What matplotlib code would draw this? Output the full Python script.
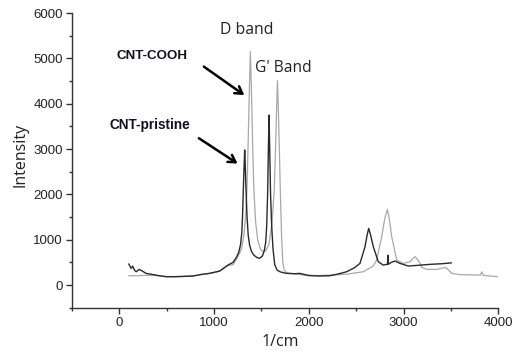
import matplotlib
matplotlib.use("Agg")
import matplotlib.pyplot as plt

# CNT-pristine (dark curve)
pristine_x = [100, 124, 141, 160, 177, 212, 283, 400, 494, 600, 776, 864, 952, 1058, 1146, 1200,
              1235, 1260, 1280, 1292, 1300, 1310, 1318, 1323, 1328, 1337, 1348, 1360, 1375, 1395,
              1420, 1450, 1481, 1510, 1530, 1545, 1555, 1565, 1573, 1580, 1587, 1596, 1608, 1622,
              1640, 1665, 1700, 1760, 1850, 1905, 2000, 2100, 2220, 2300, 2399, 2480, 2540, 2593,
              2615, 2632, 2650, 2681, 2733, 2786, 2830, 2835, 2840, 2870, 2910, 2960, 3050, 3175,
              3300, 3400, 3503]
pristine_y = [463, 368, 419, 330, 294, 346, 258, 215, 183, 185, 199, 235, 258, 309, 441, 500,
              610, 720, 900, 1150, 1500, 2200, 2700, 2980, 2700, 2100, 1500, 1100, 880, 740,
              660, 610, 589, 640, 760, 950, 1300, 2000, 3000, 3750, 3000, 2000, 1300, 800,
              450, 330, 290, 260, 250, 258, 210, 200, 205, 240, 294, 380, 478, 845,
              1100, 1250, 1120, 845, 515, 440, 460, 660, 460, 500, 530, 480, 420, 440,
              460, 470, 490]

# CNT-COOH (light gray curve)
cooh_x = [100, 200, 270, 350, 494, 600, 776, 952, 1058, 1146, 1200, 1250, 1290, 1315, 1332, 1345,
          1358, 1372, 1383, 1394, 1408, 1420, 1438, 1460, 1490, 1517, 1545, 1580, 1610, 1635,
          1650, 1660, 1669, 1678, 1690, 1700, 1712, 1725, 1740, 1770, 1850, 1950, 2100, 2222,
          2400, 2575, 2680, 2716, 2769, 2800, 2829, 2850, 2875, 2928, 2998, 3069, 3100, 3122,
          3150, 3175, 3192, 3245, 3350, 3420, 3439, 3470, 3510, 3600, 3810, 3827, 3840, 4000]
cooh_y = [206, 206, 215, 215, 190, 188, 200, 258, 305, 430, 450, 620, 800, 1100, 1500, 2000,
          3000, 4300, 5150, 4300, 3000, 2100, 1400, 1000, 790, 735, 760, 900, 1350, 2100,
          3100, 3900, 4510, 3900, 2900, 2000, 1100, 500, 330, 265, 250, 220, 210, 220,
          240, 294, 420, 550, 1066, 1450, 1670, 1450, 1066, 550, 478, 515, 590, 625,
          560, 478, 390, 345, 345, 380, 390, 340, 258, 230, 220, 293, 215, 183]

x_ticks = [0, 1000, 2000, 3000, 4000]
y_ticks = [0, 1000, 2000, 3000, 4000, 5000, 6000]

fig = plt.figure(figsize=(5.16, 3.52), dpi=100)
ax = fig.add_axes([0.1395, 0.1257, 0.8262, 0.8373])

ax.plot(cooh_x, cooh_y, color="#a8a8a8", lw=0.9)
ax.plot(pristine_x, pristine_y, color="#2a2a2a", lw=1.0)

ax.set_xlim(-500, 4000)
ax.set_ylim(-500, 6000)
ax.set_xticks(x_ticks)
ax.set_yticks(y_ticks)
ax.set_xticks([-500, 500, 1500, 2500, 3500], minor=True)
ax.set_yticks([-500, 500, 1500, 2500, 3500, 4500, 5500], minor=True)
for s in ["top", "right"]:
    ax.spines[s].set_visible(False)
for s in ["left", "bottom"]:
    ax.spines[s].set_color("#333333")
    ax.spines[s].set_linewidth(1.0)
ax.tick_params(which="major", length=4.5, width=1.0, color="#333333", labelsize=9.5,
               labelcolor="#222222", pad=2)
ax.tick_params(which="minor", length=2.5, width=1.0, color="#333333")
for lab in ax.get_xticklabels() + ax.get_yticklabels():
    lab.set_family("Liberation Sans")

ax.set_ylabel("Intensity", fontsize=11.5, family="Open Sans", color="#222222", va="center")
ax.yaxis.set_label_coords(-0.12, 0.518)
ax.set_xlabel("1/cm", fontsize=11.5, family="Open Sans", color="#222222", va="center")
ax.xaxis.set_label_coords(0.488, -0.115)

ax.text(1346, 5625, "D band", fontsize=11.3, family="Open Sans", ha="center", va="center", color="#222222")
ax.text(1726, 4798, "G' Band", fontsize=11.2, family="Open Sans", ha="center", va="center", color="#222222")
ax.text(343, 5052, "CNT-COOH", fontsize=9.6, family="Liberation Sans", weight="bold",
        ha="center", va="center", color="#111122")
ax.text(322, 3530, "CNT-pristine", fontsize=9.8, family="Liberation Sans", weight="bold",
        ha="center", va="center", color="#111122")

arrow = dict(arrowstyle="->,head_length=0.5,head_width=0.3", color="black", lw=1.8)
ax.annotate("", xy=(1343, 4154), xytext=(868, 4853), arrowprops=arrow)
ax.annotate("", xy=(1272, 2647), xytext=(815, 3272), arrowprops=arrow)

fig.savefig("out.png", dpi=100)
